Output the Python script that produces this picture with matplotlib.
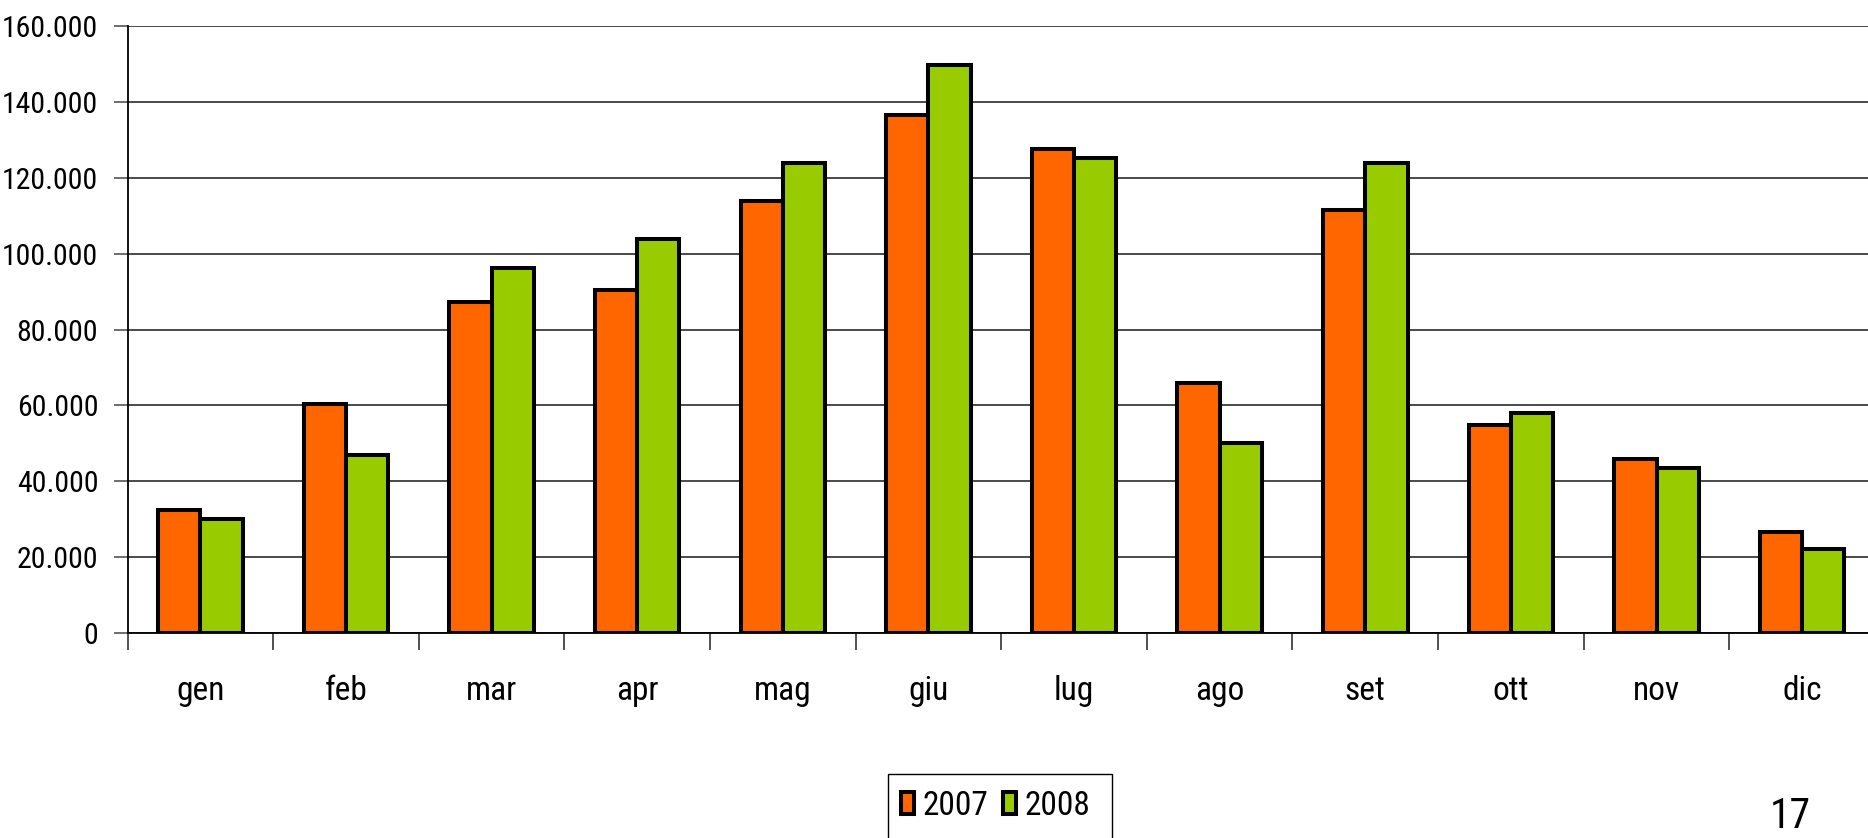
import matplotlib
matplotlib.use("Agg")
import matplotlib.pyplot as plt
import numpy as np
from matplotlib import font_manager
from matplotlib.patches import Rectangle
from matplotlib.ticker import FixedLocator, NullFormatter

# Monthly figures, 2007 vs 2008
mesi = ["gen", "feb", "mar", "apr", "mag", "giu", "lug", "ago", "set", "ott", "nov", "dic"]
valori_2007 = [32400, 60300, 87200, 90500, 113900, 136500, 127500, 66000, 111600, 54700, 45800, 26700]
valori_2008 = [30100, 46900, 96100, 103900, 124000, 149800, 125200, 50100, 123900, 58100, 43600, 22200]
serie = ["2007", "2008"]
colori = ["#FF6600", "#99CC00"]

y_ticks = [0, 20000, 40000, 60000, 80000, 100000, 120000, 140000, 160000]
y_labels = ["0", "20.000", "40.000", "60.000", "80.000", "100.000", "120.000", "140.000", "160.000"]
numero_pagina = "17"

# pick a narrow sans face if one is available, otherwise a plain one at a smaller size
available = {(f.name, f.stretch) for f in font_manager.fontManager.ttflist}
names = {n for n, _ in available}
narrow = None
for cand in ["Liberation Sans Narrow", "Roboto Condensed", "Open Sans Condensed", "Arial Narrow"]:
    if cand in names:
        narrow = (cand, "normal")
        break
if narrow is None:
    for n, s in available:
        if n in ("DejaVu Sans", "Noto Sans", "Open Sans") and s in ("condensed", "semi-condensed"):
            narrow = (n, "condensed")
            break

if narrow is not None:
    plt.rcParams["font.family"] = [narrow[0], "Liberation Sans", "DejaVu Sans"]
    plt.rcParams["font.stretch"] = narrow[1]
    fs_y, fs_x, fs_leg, fs_pg = 21.5, 24, 24, 30
else:
    plt.rcParams["font.family"] = ["Liberation Sans", "DejaVu Sans"]
    fs_y, fs_x, fs_leg, fs_pg = 18, 20, 20, 27

W, H = 1868, 838
fig = plt.figure(figsize=(W / 100, H / 100), dpi=100)
ax = fig.add_axes([127.5 / W, 1 - 633 / H, (1875 - 127.5) / W, (633 - 26) / H])

x = np.arange(len(mesi))
bw = 0.29
b1 = ax.bar(x - bw / 2, valori_2007, width=bw, color=colori[0], edgecolor="black",
            linewidth=2.9, label=serie[0], zorder=3)
b2 = ax.bar(x + bw / 2, valori_2008, width=bw, color=colori[1], edgecolor="black",
            linewidth=2.9, label=serie[1], zorder=3)

ax.set_xlim(-0.5, len(mesi) - 0.5)
ax.set_ylim(0, 160000)

# horizontal grid
ax.set_yticks(y_ticks)
ax.set_yticklabels(y_labels, fontsize=fs_y)
ax.yaxis.grid(True, color="#4a4a4a", linewidth=1.4, zorder=0)
ax.set_axisbelow(True)

# category labels centred, tick marks on category boundaries
ax.set_xticks(x)
ax.set_xticklabels(mesi, fontsize=fs_x)
ax.xaxis.set_minor_locator(FixedLocator(np.arange(-0.5, len(mesi), 1.0)))
ax.xaxis.set_minor_formatter(NullFormatter())
ax.tick_params(axis="x", which="major", length=0, pad=30)
ax.tick_params(axis="x", which="minor", length=12, width=1.2, color="#333333", direction="out")
ax.tick_params(axis="y", which="major", length=10, width=1.2, color="#555555", pad=11)

for s in ["top", "right"]:
    ax.spines[s].set_visible(False)
ax.spines["left"].set_color("black")
ax.spines["left"].set_linewidth(1.3)
ax.spines["bottom"].set_color("black")
ax.spines["bottom"].set_linewidth(1.3)

# legend box (runs past the lower edge of the page)
fig.patches.append(Rectangle((888 / W, 1 - 860 / H), (1112 - 888) / W, (860 - 774) / H,
                             transform=fig.transFigure, facecolor="white",
                             edgecolor="black", linewidth=1.0, zorder=1))
leg = fig.legend(handles=[b1, b2], labels=serie, loc="center left",
                 bbox_to_anchor=(901 / W, 1 - 806 / H), ncol=2, fontsize=fs_leg,
                 frameon=False, borderpad=0, borderaxespad=0,
                 handlelength=0.4, handleheight=0.62, handletextpad=0.26,
                 columnspacing=0.42)
leg.set_zorder(2)

fig.text(1790 / W, 1 - 816 / H, numero_pagina, fontsize=fs_pg, ha="center", va="center")

fig.savefig("out.png", dpi=100)
